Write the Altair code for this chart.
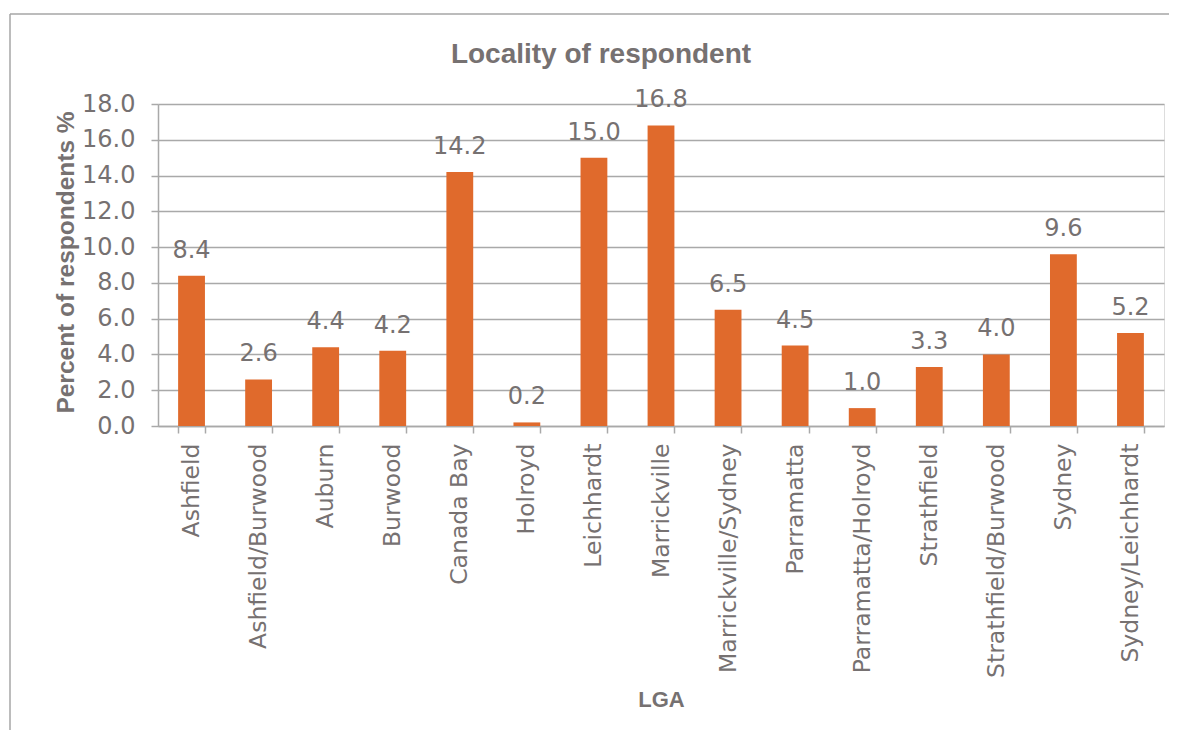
import altair as alt
import pandas as pd

categories = ["Ashfield", "Ashfield/Burwood", "Auburn", "Burwood", "Canada Bay",
              "Holroyd", "Leichhardt", "Marrickville", "Marrickville/Sydney",
              "Parramatta", "Parramatta/Holroyd", "Strathfield",
              "Strathfield/Burwood", "Sydney", "Sydney/Leichhardt"]
values = [8.4, 2.6, 4.4, 4.2, 14.2, 0.2, 15.0, 16.8, 6.5, 4.5, 1.0, 3.3, 4.0, 9.6, 5.2]
y_ticks = [0, 2, 4, 6, 8, 10, 12, 14, 16, 18]

df = pd.DataFrame({"LGA": categories, "pct": values})

TEXT = "#767171"
GRID = "#A9A9A9"
BAR = "#E06A2C"
W, H = 1006, 322
FS = 24

x_enc = alt.X("LGA:N", sort=categories,
              scale=alt.Scale(paddingInner=0.6, paddingOuter=0.3),
              axis=alt.Axis(title="LGA", labelAngle=-90, labelAlign="right",
                            labelBaseline="middle", labelFont="DejaVu Sans",
                            labelFontSize=23.5, labelColor=TEXT, labelPadding=10,
                            labelLimit=0,
                            tickBand="extent", tickSize=7, tickColor=GRID,
                            domainColor=GRID, domainWidth=1.5, tickWidth=1.5,
                            titleFont="Liberation Sans", titleFontSize=22,
                            titleFontWeight="bold", titleColor=TEXT,
                            titleY=280, titleBaseline="alphabetic"))
y_enc = alt.Y("pct:Q", scale=alt.Scale(domain=[0, 18], nice=False),
              axis=alt.Axis(title="Percent of respondents %", values=y_ticks,
                            format=".1f", labelFont="DejaVu Sans", labelFontSize=FS,
                            labelColor=TEXT, labelPadding=16, tickSize=7,
                            tickColor=GRID, tickWidth=1.5, domainColor=GRID,
                            domainWidth=1.5, gridColor=GRID, gridWidth=1.5,
                            labelOverlap=False,
                            titleFont="Liberation Sans", titleFontSize=24.5,
                            titleFontWeight="bold", titleColor=TEXT,
                            titleX=-85, titleY=158, titleBaseline="alphabetic",
                            titleAngle=-90, titleAlign="center"))

bars = alt.Chart(df).mark_bar(color=BAR).encode(x=x_enc, y=y_enc)
labels = alt.Chart(df).mark_text(font="DejaVu Sans", fontSize=FS, color=TEXT,
                                 baseline="alphabetic", dy=-18).encode(
    x=x_enc, y=y_enc,
    text=alt.Text("pct:Q", format=".1f"))

one = pd.DataFrame({"k": [0]})
frame_top = alt.Chart(one).mark_rule(color="#A6A6A6", strokeWidth=1.5).encode(
    x=alt.value(-148), x2=alt.value(1011), y=alt.value(-90))
frame_left = alt.Chart(one).mark_rule(color="#A6A6A6", strokeWidth=1.5).encode(
    x=alt.value(-148), y=alt.value(-90), y2=alt.value(700))

title_df = pd.DataFrame({"t": ["Locality of respondent"]})
title = alt.Chart(title_df).mark_text(font="Liberation Sans", fontSize=28,
                                      fontWeight="bold", color=TEXT,
                                      baseline="alphabetic", align="center").encode(
    x=alt.value(443), y=alt.value(-41), text="t:N")

chart = alt.layer(frame_top, frame_left, bars, labels, title).properties(
    width=W, height=H,
    autosize=alt.AutoSizeParams(type="none"),
    padding={"left": 150, "top": 96, "right": 6, "bottom": 304},
).configure_view(stroke=None).configure(background="white")

chart.save("out.html", embed_options={"renderer": "svg", "actions": False})
